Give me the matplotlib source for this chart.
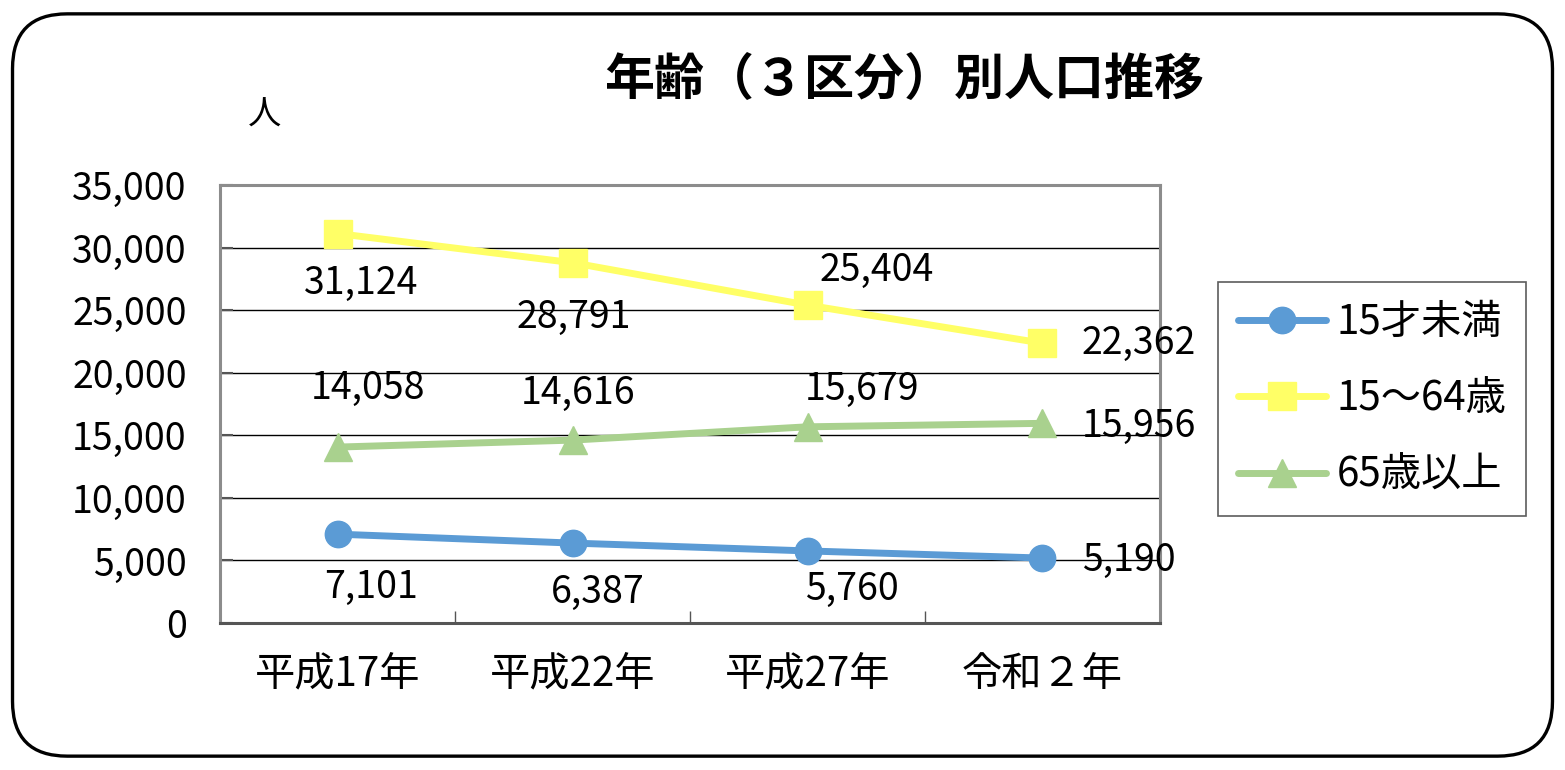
import matplotlib
matplotlib.use("Agg")
import matplotlib.pyplot as plt
from matplotlib.patches import FancyBboxPatch

plt.rcParams['font.family'] = ['Noto Sans CJK JP', 'DejaVu Sans']

years = ['平成17年', '平成22年', '平成27年', '令和２年']
under15 = [7101, 6387, 5760, 5190]
working = [31124, 28791, 25404, 22362]
elderly = [14058, 14616, 15679, 15956]
series_names = ['15才未満', '15～64歳', '65歳以上']

# label offsets in pixels, relative to each point
off_under15 = [(34, -53), (25, -49), (44, -38), (86, -2)]
off_working = [(24, -50), (1, -55), (69, 35), (96, 0)]
off_elderly = [(30, 59), (6, 47), (54, 37), (96, -3)]

fig = plt.figure(figsize=(15.65, 7.70), dpi=100)
ax = fig.add_axes([0.1406, 0.1909, 0.6006, 0.5688])

# rounded outer frame
frame = FancyBboxPatch((0.008, 0.018), 0.984, 0.964,
                       boxstyle="round,pad=0,rounding_size=0.035",
                       transform=fig.transFigure, fill=False,
                       edgecolor='black', linewidth=2.4, mutation_aspect=1565 / 770)
fig.patches.append(frame)

x = range(len(years))
styles = [
    (under15, '#5B9BD5', 'o', 19, off_under15),
    (working, '#FFFF66', 's', 20, off_working),
    (elderly, '#A9D18E', '^', 20, off_elderly),
]
for (vals, color, mk, ms, offs), name in zip(styles, series_names):
    ax.plot(x, vals, color=color, linewidth=5, marker=mk, markersize=ms,
            solid_capstyle='round', label=name, zorder=3)
    for xi, v, o in zip(x, vals, offs):
        ax.annotate(f'{v:,}', (xi, v), xytext=o, textcoords='offset pixels',
                    ha='center', va='center', fontsize=27, zorder=4)

ax.set_xlim(-0.5, 3.5)
ax.set_ylim(0, 35000)
ax.set_yticks(range(0, 35001, 5000))
ax.set_yticklabels([f'{v:,}' for v in range(0, 35001, 5000)])
ax.set_xticks(list(x))
ax.set_xticklabels(years)
ax.set_xticks([0.5, 1.5, 2.5], minor=True)
ax.tick_params(axis='x', which='major', length=0, pad=22, labelsize=29)
ax.tick_params(axis='x', which='minor', direction='in', length=9, width=1, color='#555555')
ax.tick_params(axis='y', direction='in', length=9, width=1.5, pad=24, labelsize=27, color='#555555')
ax.grid(axis='y', color='black', linewidth=1)
ax.set_axisbelow(True)
for s in ['left', 'top', 'right']:
    ax.spines[s].set_color('#8c8c8c')
    ax.spines[s].set_linewidth(2.2)
ax.spines['bottom'].set_color('#555555')
ax.spines['bottom'].set_linewidth(2.2)

fig.text(0.169, 0.85, '人', fontsize=24, ha='center', va='center')
fig.text(0.578, 0.895, '年齢（３区分）別人口推移', fontsize=36, fontweight='bold',
         ha='center', va='center')

leg = fig.legend(loc='upper left', bbox_to_anchor=(0.778, 0.634),
                 fontsize=29, frameon=True, fancybox=False, edgecolor='#333333',
                 handlelength=2.2, labelspacing=0.88, borderpad=0.5,
                 handletextpad=0.25, borderaxespad=0)
leg.get_frame().set_linewidth(1.2)

fig.savefig('out.png', dpi=100)
